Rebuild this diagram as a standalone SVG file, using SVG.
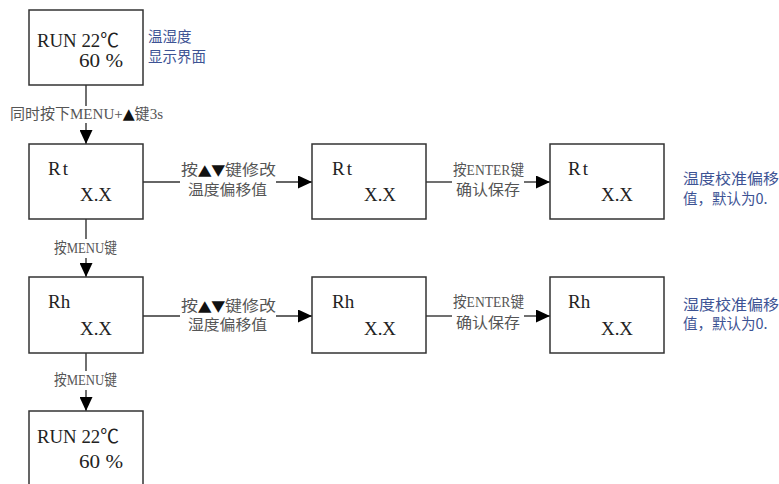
<svg xmlns="http://www.w3.org/2000/svg" width="779" height="484" viewBox="0 0 779 484">
<style>
.box{fill:#fff;stroke:#333;stroke-width:1.5}
.t{font-family:"Liberation Serif","Noto Sans CJK SC",serif;font-size:19px;fill:#222}
.lb{font-family:"Liberation Serif","Noto Sans CJK SC",serif;font-size:14.5px;fill:#555}
.tri{font-family:"DejaVu Sans",sans-serif;font-size:15px;fill:#111}
.bl{font-family:"Noto Sans CJK SC","Liberation Serif",serif;font-size:14.5px;fill:#3d5394}
.ln{stroke:#333;stroke-width:1.4;fill:none}
</style>
<defs>
<marker id="ah" markerWidth="14" markerHeight="13" refX="14" refY="6.5" orient="auto" markerUnits="userSpaceOnUse">
<path d="M0,0 L14,6.5 L0,13 Z" fill="#000"/>
</marker>
</defs>
<g id="connectors">
<line class="ln" x1="86" y1="85" x2="86" y2="106"/>
<line class="ln" x1="86" y1="123" x2="86" y2="144" marker-end="url(#ah)"/>
<line class="ln" x1="86" y1="219" x2="86" y2="239"/>
<line class="ln" x1="86" y1="258" x2="86" y2="277" marker-end="url(#ah)"/>
<line class="ln" x1="86" y1="353" x2="86" y2="371"/>
<line class="ln" x1="86" y1="390" x2="86" y2="411" marker-end="url(#ah)"/>
<line class="ln" x1="143" y1="182" x2="180" y2="182"/>
<line class="ln" x1="276" y1="182" x2="312" y2="182" marker-end="url(#ah)"/>
<line class="ln" x1="426" y1="182" x2="452" y2="182"/>
<line class="ln" x1="524" y1="182" x2="550" y2="182" marker-end="url(#ah)"/>
<line class="ln" x1="143" y1="316" x2="180" y2="316"/>
<line class="ln" x1="276" y1="316" x2="312" y2="316" marker-end="url(#ah)"/>
<line class="ln" x1="426" y1="316" x2="452" y2="316"/>
<line class="ln" x1="524" y1="316" x2="550" y2="316" marker-end="url(#ah)"/>
<text class="lb" x="10" y="119" textLength="153" lengthAdjust="spacingAndGlyphs">同时按下MENU+<tspan class="tri">▲</tspan>键3s</text>
<text class="lb" x="54" y="253" textLength="63" lengthAdjust="spacingAndGlyphs">按MENU键</text>
<text class="lb" x="54" y="385" textLength="63" lengthAdjust="spacingAndGlyphs">按MENU键</text>
<text class="lb" x="181" y="175" textLength="95" lengthAdjust="spacingAndGlyphs">按<tspan class="tri">▲▼</tspan>键修改</text>
<text class="lb" x="188" y="195" textLength="79" lengthAdjust="spacingAndGlyphs">温度偏移值</text>
<text class="lb" x="453" y="175" textLength="71" lengthAdjust="spacingAndGlyphs">按ENTER键</text>
<text class="lb" x="456" y="195" textLength="64" lengthAdjust="spacingAndGlyphs">确认保存</text>
<text class="lb" x="181" y="311" textLength="95" lengthAdjust="spacingAndGlyphs">按<tspan class="tri">▲▼</tspan>键修改</text>
<text class="lb" x="188" y="330" textLength="79" lengthAdjust="spacingAndGlyphs">湿度偏移值</text>
<text class="lb" x="453" y="307" textLength="71" lengthAdjust="spacingAndGlyphs">按ENTER键</text>
<text class="lb" x="456" y="328" textLength="64" lengthAdjust="spacingAndGlyphs">确认保存</text>
</g>
<g id="n-run1">
<rect class="box" x="29" y="10" width="114" height="75"/>
<text class="t" x="37" y="47" textLength="82" lengthAdjust="spacingAndGlyphs">RUN 22℃</text>
<text class="t" x="79" y="67" textLength="44" lengthAdjust="spacingAndGlyphs">60 %</text>
<text class="bl" x="148" y="42">温湿度</text>
<text class="bl" x="148" y="62">显示界面</text>
</g>
<g id="n-rt1">
<rect class="box" x="29" y="144" width="114" height="75"/>
<text class="t" x="48" y="175" textLength="20" lengthAdjust="spacing">Rt</text>
<text class="t" x="80" y="201" textLength="32" lengthAdjust="spacingAndGlyphs">X.X</text>
</g>
<g id="n-rt2">
<rect class="box" x="312" y="144" width="114" height="75"/>
<text class="t" x="332" y="175" textLength="20" lengthAdjust="spacing">Rt</text>
<text class="t" x="364" y="201" textLength="32" lengthAdjust="spacingAndGlyphs">X.X</text>
</g>
<g id="n-rt3">
<rect class="box" x="550" y="144" width="114" height="75"/>
<text class="t" x="568" y="175" textLength="20" lengthAdjust="spacing">Rt</text>
<text class="t" x="601" y="201" textLength="32" lengthAdjust="spacingAndGlyphs">X.X</text>
<text class="bl" x="683" y="184" textLength="96" lengthAdjust="spacingAndGlyphs">温度校准偏移</text>
<text class="bl" x="683" y="204">值，默认为0.</text>
</g>
<g id="n-rh1">
<rect class="box" x="29" y="277" width="114" height="76"/>
<text class="t" x="48" y="308">Rh</text>
<text class="t" x="80" y="335" textLength="32" lengthAdjust="spacingAndGlyphs">X.X</text>
</g>
<g id="n-rh2">
<rect class="box" x="312" y="277" width="114" height="76"/>
<text class="t" x="332" y="308">Rh</text>
<text class="t" x="364" y="335" textLength="32" lengthAdjust="spacingAndGlyphs">X.X</text>
</g>
<g id="n-rh3">
<rect class="box" x="550" y="277" width="114" height="76"/>
<text class="t" x="568" y="308">Rh</text>
<text class="t" x="601" y="335" textLength="32" lengthAdjust="spacingAndGlyphs">X.X</text>
<text class="bl" x="683" y="310" textLength="96" lengthAdjust="spacingAndGlyphs">湿度校准偏移</text>
<text class="bl" x="683" y="329">值，默认为0.</text>
</g>
<g id="n-run2">
<rect class="box" x="29" y="411" width="114" height="80"/>
<text class="t" x="37" y="443" textLength="82" lengthAdjust="spacingAndGlyphs">RUN 22℃</text>
<text class="t" x="79" y="468" textLength="44" lengthAdjust="spacingAndGlyphs">60 %</text>
</g>
</svg>
